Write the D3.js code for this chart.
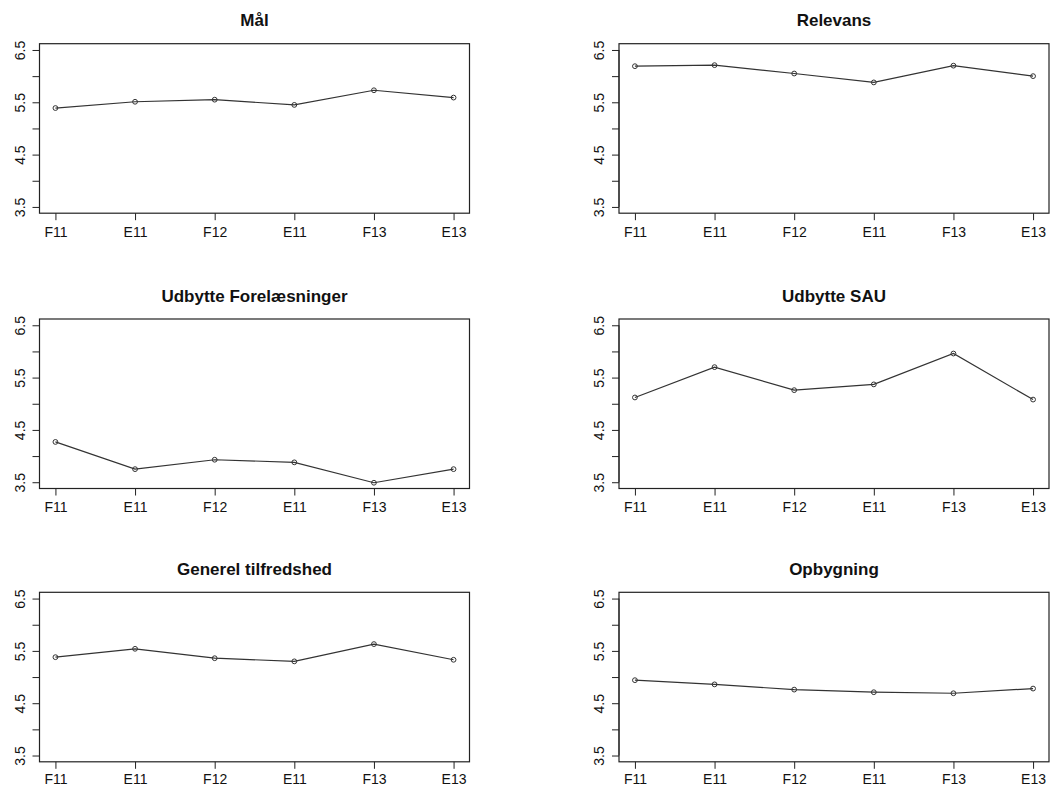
<!DOCTYPE html>
<html>
<head>
<meta charset="utf-8">
<script src="https://cdn.jsdelivr.net/npm/d3@7"></script>
<style>
  html, body { margin: 0; padding: 0; background: #fff; }
  svg { display: block; }
  text { font-family: "Liberation Sans", Arial, Helvetica, sans-serif; fill: #111; }
</style>
</head>
<body>
<svg id="chart" width="1062" height="787"></svg>
<script>
// ---- data ----
const categories = ["F11", "E11", "F12", "E11", "F13", "E13"];
const titles = ["Mål", "Relevans", "Udbytte Forelæsninger", "Udbytte SAU", "Generel tilfredshed", "Opbygning"];
const malValues = [5.39, 5.51, 5.55, 5.45, 5.73, 5.59];
const relevansValues = [6.19, 6.21, 6.05, 5.88, 6.20, 6.00];
const udbytteForelValues = [4.27, 3.75, 3.93, 3.88, 3.49, 3.75];
const udbytteSauValues = [5.12, 5.70, 5.26, 5.37, 5.96, 5.08];
const generelValues = [5.38, 5.54, 5.36, 5.30, 5.63, 5.33];
const opbygningValues = [4.94, 4.86, 4.76, 4.71, 4.69, 4.78];
const yTicks = [3.5, 4, 4.5, 5, 5.5, 6, 6.5];
const yTickLabels = ["3.5", "", "4.5", "", "5.5", "", "6.5"];
const yLimits = [3.5, 6.5];

const seriesList = [malValues, relevansValues, udbytteForelValues, udbytteSauValues, generelValues, opbygningValues];

// ---- layout ----
const W = 1062, H = 787;
const colLeft = [39.5, 619];
const rowTop = [43.7, 319, 592.3];
const boxW = 430, boxH = 169.5;
const xLabelOffset = 23.8;
const tickFont = 14;

const svg = d3.select("#chart");
svg.append("rect").attr("width", W).attr("height", H).attr("fill", "#fff");

// R-style 4% extension
const ySpan = yLimits[1] - yLimits[0];
const yDomain = [yLimits[0] - 0.04 * ySpan, yLimits[1] + 0.04 * ySpan];
const idx = categories.map((d, i) => i + 1);
const xSpan = idx.length - 1;
const xDomain = [1 - 0.04 * xSpan, idx.length + 0.04 * xSpan];

seriesList.forEach((values, k) => {
  const col = k % 2, row = Math.floor(k / 2);
  const top = rowTop[row];
  const g = svg.append("g").attr("transform", `translate(${colLeft[col]},${top})`);

  const x = d3.scaleLinear().domain(xDomain).range([0, boxW]);
  const y = d3.scaleLinear().domain(yDomain).range([boxH, 0]);

  // title
  g.append("text")
    .attr("x", boxW / 2).attr("y", -17.3)
    .attr("text-anchor", "middle")
    .attr("font-weight", "bold")
    .attr("font-size", "17px")
    .text(titles[k]);

  // keep x labels (incl. descent) inside the page
  const maxBaseline = H - 0.22 * tickFont - top - boxH;
  const labelY = Math.min(xLabelOffset, maxBaseline);

  // x axis
  const xAxis = d3.axisBottom(x)
    .tickValues(idx)
    .tickFormat((d, i) => categories[i])
    .tickSize(7).tickSizeOuter(0);
  const gx = g.append("g").attr("transform", `translate(0,${boxH})`).call(xAxis);
  gx.select(".domain").remove();
  gx.selectAll(".tick line").attr("stroke", "#222").attr("stroke-width", 1);
  gx.selectAll(".tick text")
    .attr("y", labelY).attr("dy", null)
    .attr("font-size", tickFont + "px")
    .attr("font-family", "Liberation Sans, Arial, sans-serif")
    .attr("fill", "#111");

  // y axis
  const yAxis = d3.axisLeft(y)
    .tickValues(yTicks)
    .tickFormat((d, i) => yTickLabels[i])
    .tickSize(7).tickSizeOuter(0);
  const gy = g.append("g").call(yAxis);
  gy.select(".domain").remove();
  gy.selectAll(".tick line").attr("stroke", "#222").attr("stroke-width", 1);
  gy.selectAll(".tick text")
    .attr("x", null).attr("dy", null)
    .attr("transform", "translate(-15,0) rotate(-90)")
    .attr("text-anchor", "middle")
    .attr("font-size", tickFont + "px")
    .attr("font-family", "Liberation Sans, Arial, sans-serif")
    .attr("fill", "#111");

  // y axis line from first to last tick (R style)
  g.append("line")
    .attr("x1", 0).attr("x2", 0)
    .attr("y1", y(yTicks[0])).attr("y2", y(yTicks[yTicks.length - 1]))
    .attr("stroke", "#222").attr("stroke-width", 1);

  // box
  g.append("rect")
    .attr("x", 0).attr("y", 0).attr("width", boxW).attr("height", boxH)
    .attr("fill", "none").attr("stroke", "#222").attr("stroke-width", 1.2);

  // line
  const line = d3.line().x((d, i) => x(idx[i])).y(d => y(d));
  g.append("path")
    .datum(values)
    .attr("d", line)
    .attr("fill", "none")
    .attr("stroke", "#333")
    .attr("stroke-width", 1.2);

  // points
  g.selectAll("circle.pt")
    .data(values)
    .enter().append("circle")
    .attr("class", "pt")
    .attr("cx", (d, i) => x(idx[i]))
    .attr("cy", d => y(d))
    .attr("r", 2.4)
    .attr("fill", "none")
    .attr("stroke", "#333")
    .attr("stroke-width", 1);
});
</script>
</body>
</html>
